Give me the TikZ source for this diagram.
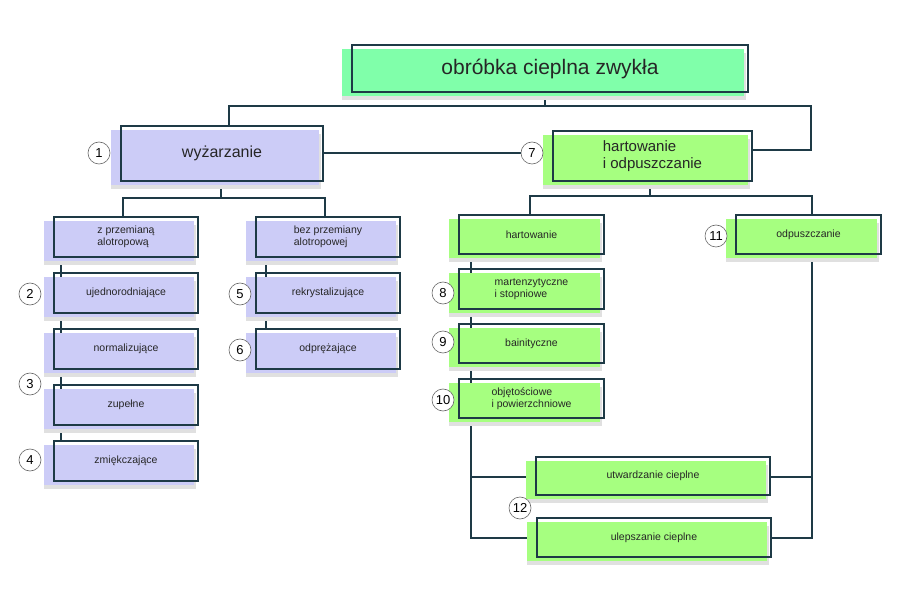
\documentclass[tikz,border=0pt]{standalone}
\usepackage{fontspec}
\setmainfont{Liberation Sans}
\begin{document}
\definecolor{bd}{HTML}{1E3A46}
\definecolor{pu}{HTML}{CCCCF7}
\definecolor{gt}{HTML}{80FFAA}
\definecolor{gr}{HTML}{A6FF80}
\tikzset{
 box/.style={draw=bd,line width=2.2pt,inner sep=2pt,align=left,text=black!85},
 con/.style={draw=bd,line width=1.6pt},
 num/.style={circle,draw=black!60,fill=white,line width=0.6pt,minimum size=22pt,inner sep=0pt,font=\fontsize{13}{13}\selectfont}
}
\newcommand{\bx}[8]{%
 \fill[black!12] (#2-10,#3+8) rectangle (#4-2,#5+8);
 \fill[#6] (#2-10,#3+4) rectangle (#4-4,#5+4);
 \node[box,minimum width={#4-#2},minimum height={#5-#3},font=#8] (#1) at ({(#2+#4)/2},{(#3+#5)/2}) {#7};}
\begin{tikzpicture}[x=1pt,y=-1pt]
\useasboundingbox (0,0) rectangle (907,593);
\def\s{\fontsize{10.5}{12}\selectfont}
% connectors
\draw[con] (545,92) -- (545,106) -- (229,106) -- (229,126);
\draw[con] (545,106) -- (811,106) -- (811,150) -- (752,150);
\draw[con] (323,153) -- (553,153);
\draw[con] (221,181) -- (221,198) -- (123,198) -- (123,217);
\draw[con] (221,198) -- (325,198) -- (325,217);
\draw[con] (650,181) -- (650,196) -- (530,196) -- (530,215);
\draw[con] (650,196) -- (812,196) -- (812,215);
\draw[con] (61,257) -- (61,441);
\draw[con] (266,257) -- (266,329);
\draw[con] (471,254) -- (471,538) -- (537,538);
\draw[con] (471,477) -- (536,477);
\draw[con] (812,254) -- (812,538) -- (771,538);
\draw[con] (812,477) -- (770,477);
% boxes
\bx{top}{352}{45}{748}{92}{gt}{obróbka cieplna zwykła}{\fontsize{21}{24}\selectfont}
\bx{wyz}{121}{126}{323}{181}{pu}{wyżarzanie}{\fontsize{16}{18}\selectfont}
\bx{hio}{553}{131}{752}{181}{gr}{hartowanie\\i odpuszczanie}{\fontsize{15}{17}\selectfont}
\bx{zp}{54}{217}{198}{257}{pu}{z przemianą\\alotropową}{\s}
\bx{uj}{54}{273}{198}{313}{pu}{ujednorodniające}{\s}
\bx{no}{54}{329}{198}{369}{pu}{normalizujące}{\s}
\bx{zu}{54}{385}{198}{425}{pu}{zupełne}{\s}
\bx{zm}{54}{441}{198}{481}{pu}{zmiękczające}{\s}
\bx{bp}{256}{217}{400}{257}{pu}{bez przemiany\\alotropowej}{\s}
\bx{re}{256}{273}{400}{313}{pu}{rekrystalizujące}{\s}
\bx{od}{256}{329}{400}{369}{pu}{odprężające}{\s}
\bx{ha}{459}{215}{604}{254}{gr}{hartowanie}{\s}
\bx{ma}{459}{269}{604}{309}{gr}{martenzytyczne\\i stopniowe}{\s}
\bx{ba}{459}{324}{604}{363}{gr}{bainityczne}{\s}
\bx{ob}{459}{379}{604}{418}{gr}{objętościowe\\i powierzchniowe}{\s}
\bx{op}{736}{215}{881}{254}{gr}{odpuszczanie}{\s}
\bx{ut}{536}{457}{770}{495}{gr}{utwardzanie cieplne}{\s}
\bx{ul}{537}{518}{771}{557}{gr}{ulepszanie cieplne}{\s}
% numbers
\node[num] (n1) at (99,153) {1};
\node[num] (n7) at (532,153) {7};
\node[num] (n2) at (30,294) {2};
\node[num] (n3) at (30,384) {3};
\node[num] (n4) at (30,460) {4};
\node[num] (n5) at (240,294) {5};
\node[num] (n6) at (240,350) {6};
\node[num] (n8) at (443,293) {8};
\node[num] (n9) at (443,342) {9};
\node[num] (n10) at (443,400) {10};
\node[num] (n11) at (716,236) {11};
\node[num] (n12) at (520,508) {12};
\end{tikzpicture}
\end{document}
